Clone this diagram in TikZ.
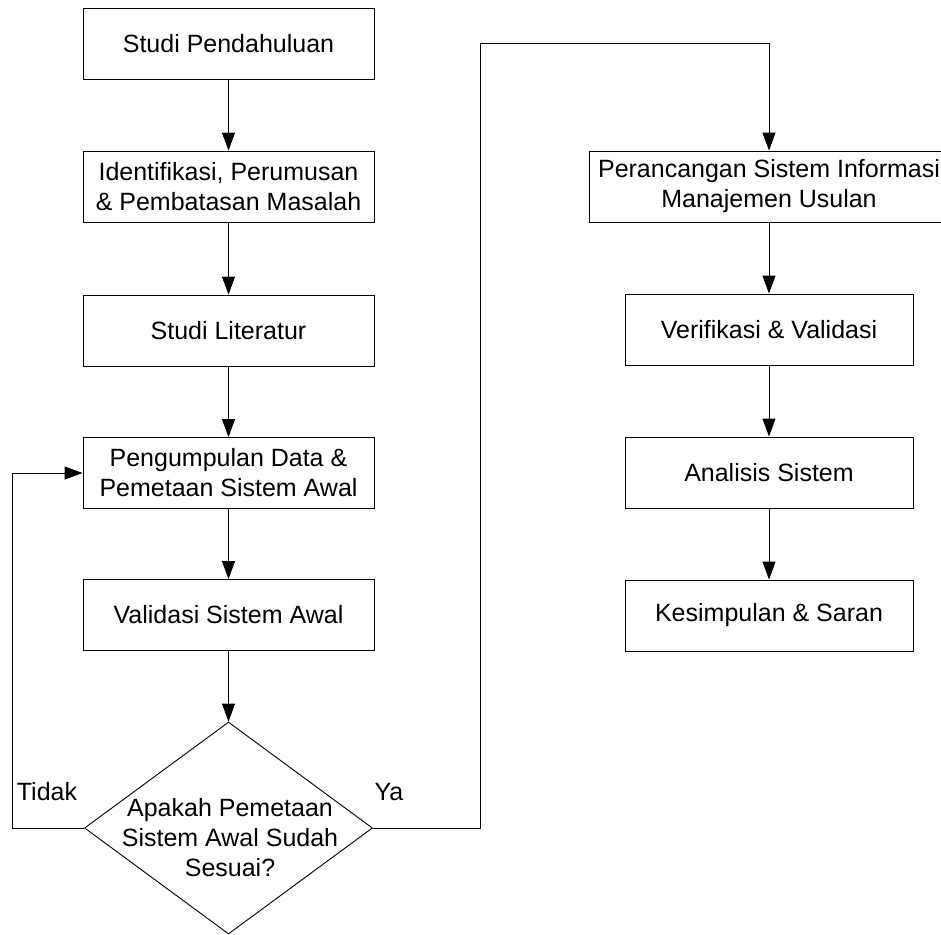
\documentclass[tikz,border=0pt]{standalone}
\usepackage{fontspec}
\setmainfont{Liberation Sans}
\usetikzlibrary{arrows.meta,shapes.geometric}
\begin{document}
\begin{tikzpicture}[x=1pt,y=-1pt,
  every node/.style={font=\fontsize{25}{30}\selectfont},
  stepbox/.style={draw, line width=0.9pt, inner sep=0pt, align=center,
                  minimum width=291pt, minimum height=71pt},
  rbox/.style={stepbox, minimum width=288pt},
  decision/.style={draw, line width=0.9pt, diamond, inner sep=0pt,
                   minimum width=288pt, minimum height=212pt},
  flow/.style={line width=0.9pt, -{Triangle[length=18pt,width=13pt]}}]
\useasboundingbox (0,0) rectangle (941,934);

% left column
\node[stepbox] (b1) at (228.5,43.5) {Studi Pendahuluan};
\node[stepbox] (b2) at (228.5,186.5) {Identifikasi, Perumusan\\\& Pembatasan Masalah};
\node[stepbox] (b3) at (228.5,330.5) {Studi Literatur};
\node[stepbox] (b4) at (228.5,473) {Pengumpulan Data \&\\Pemetaan Sistem Awal};
\node[stepbox] (b5) at (228.5,615) {Validasi Sistem Awal};
\node[decision] (dia) at (228.5,828) {};
\node[align=center] (diatext) at (230,838) {Apakah Pemetaan\\Sistem Awal Sudah\\Sesuai?};

% right column
\node[stepbox, minimum width=360pt] (b6) at (769,186.5) {Perancangan Sistem Informasi\\Manajemen Usulan};
\node[rbox] (b7) at (769,329.5) {Verifikasi \& Validasi};
\node[rbox] (b8) at (769,472.5) {Analisis Sistem};
\node[rbox] (b9) at (769,615.5) {Kesimpulan \& Saran};

% branch labels
\node (tidak) at (47,792) {Tidak};
\node (ya) at (389,792) {Ya};

% connectors
\draw[flow] (b1) -- (b2);
\draw[flow] (b2) -- (b3);
\draw[flow] (b3) -- (b4);
\draw[flow] (b4) -- (b5);
\draw[flow] (b5) -- (dia);
\coordinate (backcorner) at (12,473);
\draw[flow] (dia.west) -| (backcorner) -- (b4.west);
\coordinate (yescorner) at (480,43);
\draw[flow] (dia.east) -| (yescorner) -| (b6.north);
\draw[flow] (b6) -- (b7);
\draw[flow] (b7) -- (b8);
\draw[flow] (b8) -- (b9);
\end{tikzpicture}
\end{document}
